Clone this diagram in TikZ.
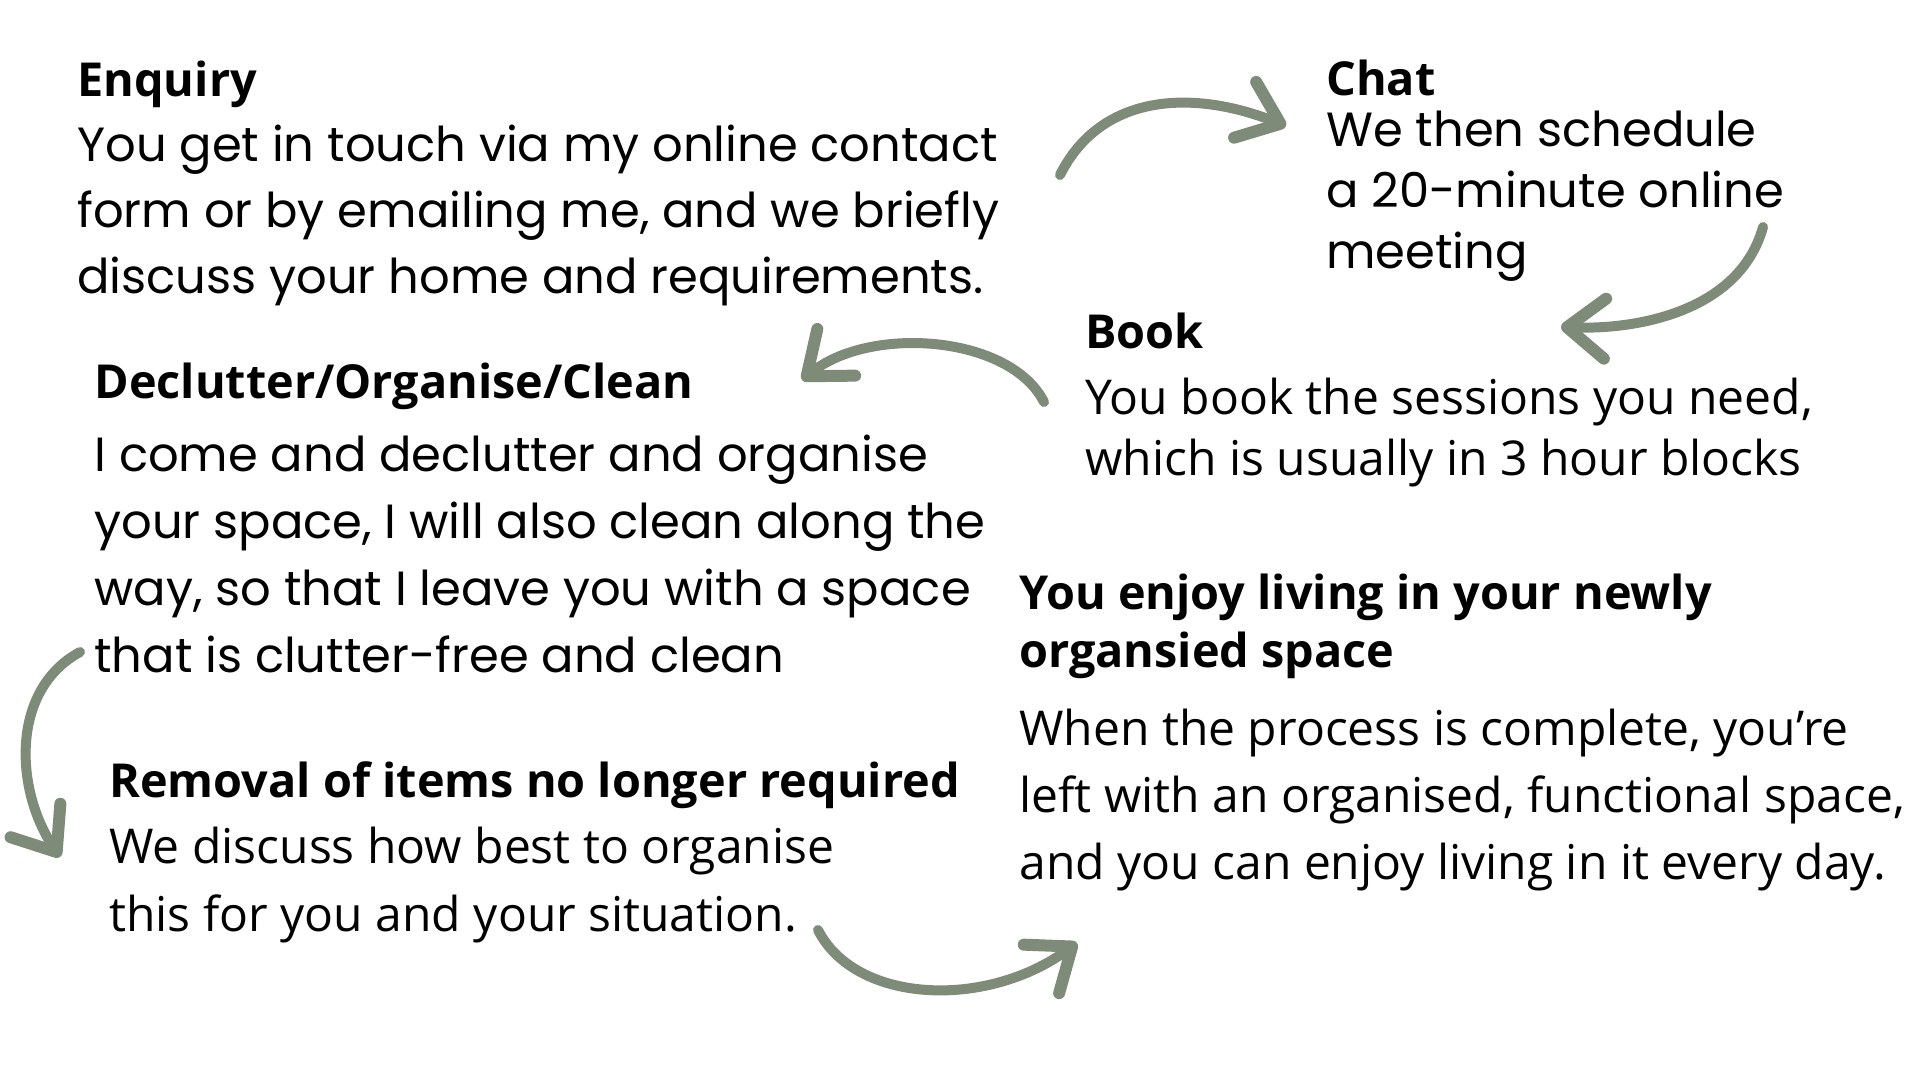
\documentclass[tikz,border=0pt]{standalone}
\usepackage{fontspec}
\setmainfont{Open Sans}
\newfontfamily\popfont{Poppins}
\newfontfamily\opfont{Open Sans}
\usetikzlibrary{arrows.meta,calc,positioning}
\definecolor{SageGreen}{RGB}{126,139,120}

\tikzset{
  stephead/.style={anchor=base west,inner sep=0pt,align=left,font=\opfont\bfseries\fontsize{23.4}{29}\selectfont},
  popbody/.style 2 args={anchor=base west,inner sep=0pt,align=left,font=\popfont\fontsize{#1}{#2}\selectfont},
  opbody/.style 2 args={anchor=base west,inner sep=0pt,align=left,font=\opfont\fontsize{#1}{#2}\selectfont},
  brush/.style={SageGreen,line width=5pt,line cap=round,
    -{Straight Barb[round,length=19pt,width=30pt,line width=6pt]}},
}

\begin{document}
\begin{tikzpicture}[x=0.5pt,y=-0.5pt]
  \useasboundingbox[fill=white] (0,0) rectangle (1920,1080);

  % steps (multi-line nodes sit on their last baseline)
  \node[stephead] (enqhead) at (77,97) {Enquiry};
  \node[popbody={24}{33}] (enqbody) at (77,294)
    {You get in touch via my online contact\\form or by emailing me, and we briefly\\discuss your home and requirements.};

  \node[stephead] (chathead) at (1326,96) {Chat};
  \node[popbody={24}{30.5}] (chatbody) at (1326,269)
    {We then schedule\\a 20-minute online\\meeting};

  \node[stephead] (bookhead) at (1085,349) {Book};
  \node[opbody={24}{30.5}] (bookbody) at (1085,475)
    {You book the sessions you need,\\which is usually in 3 hour blocks};

  \node[stephead] (declhead) at (94,398) {Declutter/Organise/Clean};
  \node[popbody={24}{33.5}] (declbody) at (94,672)
    {I come and declutter and organise\\your space, I will also clean along the\\way, so that I leave you with a space\\that is clutter-free and clean};

  \node[stephead] (enjoyhead) at (1019,667)
    {You enjoy living in your newly\\organsied space};
  \node[opbody={24}{33.5}] (enjoybody) at (1019,879)
    {When the process is complete, you’re\\left with an organised, functional space,\\and you can enjoy living in it every day.};

  \node[stephead] (remhead) at (109,797) {Removal of items no longer required};
  \node[opbody={24}{34}] (rembody) at (109,931)
    {We discuss how best to organise\\this for you and your situation.};

  % arrows
  \draw[brush] ($(enqhead.base west)+(983,78)$) .. controls +(40,-80) and +(-96,-38) .. ($(chathead.base west)+(-40,30)$);
  \draw[brush] ($(chathead.base west)+(437,131)$) .. controls +(-23,83) and +(79,3) .. ($(bookhead.base west)+(476,-22)$);
  \draw[brush] ($(bookhead.base west)+(-41,53)$) .. controls +(-34,-67) and +(68,-55) .. ($(declhead.base west)+(708,-18)$);
  \draw[brush] ($(declhead.base west)+(-14,254)$) .. controls +(-70,38) and +(-45,-67) .. ($(remhead.base west)+(-49,60)$);
  \draw[brush] ($(remhead.base west)+(709,133)$) .. controls +(37,73) and +(-92,67) .. ($(enjoyhead.base west)+(58,276)$);
\end{tikzpicture}
\end{document}
